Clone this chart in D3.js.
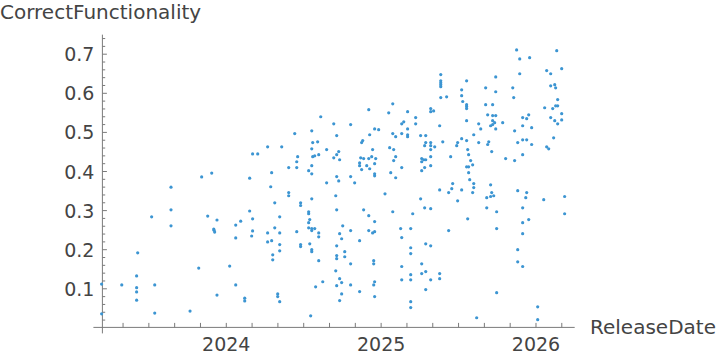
<!DOCTYPE html>
<html>
<head>
<meta charset="utf-8">
<script src="https://cdn.jsdelivr.net/npm/d3@7"></script>
<style>
  html, body { margin: 0; padding: 0; background: #fff; }
  svg { display: block; }
  text { font-family: "DejaVu Sans", sans-serif; }
</style>
</head>
<body>
<div id="chart"></div>
<script>
// ---- Data (ReleaseDate as decimal year, CorrectFunctionality) ----
const releaseDate = [
  2024.170,2024.203,2023.841,2023.906,2024.151,2023.643,2023.643,2023.518,2023.880,2023.940,
  2024.093,2024.151,2024.170,2023.643,2023.919,2023.921,2023.925,2024.061,2024.170,2024.164,
  2024.061,2023.428,2023.822,2024.022,2023.421,2023.195,2023.325,2023.538,2023.421,2024.061,
  2023.421,2023.940,2023.421,2024.119,2024.119,2023.195,2023.538,2023.766,
  2024.920,2024.610,2024.694,2024.803,2024.958,2024.984,2024.442,2024.552,2024.926,2024.713,
  2024.881,2024.874,2024.267,2024.358,2024.558,2024.590,2024.552,2024.648,2024.945,2024.726,
  2024.713,2024.597,2024.571,2024.558,2024.461,2024.694,2024.868,2024.887,2024.920,2024.939,
  2024.965,2024.732,2024.455,2024.861,2024.958,2024.552,2024.861,2024.907,2024.403,2024.455,
  2024.926,2024.874,2024.532,2024.293,2024.552,2024.958,2024.958,2024.713,2024.803,2024.726,
  2024.648,2024.829,2024.287,2024.403,2024.403,2024.707,2025.025,2024.552,2024.313,2024.480,
  2024.480,2024.713,2024.887,2024.532,2024.532,2024.920,2024.345,2024.539,2024.958,2024.532,
  2024.752,2024.313,2024.532,2024.552,2024.571,2024.552,2024.267,2024.345,2024.455,2024.597,
  2024.803,2024.920,2024.945,2024.958,2024.732,2024.597,2024.745,2024.267,2024.293,2024.861,
  2024.345,2024.480,2024.480,2024.539,2024.713,2024.552,2024.552,2024.345,2024.765,2024.300,
  2024.713,2024.713,2024.765,2024.300,2024.597,2024.952,2024.952,2024.803,2024.707,2024.732,
  2024.623,2024.745,2024.958,2024.952,2024.803,2024.713,2024.577,2024.861,2024.745,2024.332,
  2024.332,2024.958,2024.732,2024.345,2024.545,
  2025.385,2025.385,2025.385,2025.385,2025.385,2025.552,2025.520,2025.520,2025.385,2025.423,
  2025.527,2025.075,2025.552,2025.552,2025.552,2025.320,2025.320,2025.339,2025.049,2025.171,
  2025.223,2025.146,2025.133,2025.223,2025.552,2025.630,2025.378,2025.171,2025.075,2025.133,
  2025.171,2025.171,2025.094,2025.255,2025.288,2025.598,2025.520,2025.398,2025.288,2025.320,
  2025.494,2025.630,2025.552,2025.281,2025.320,2025.346,2025.488,2025.055,2025.081,2025.320,
  2025.559,2025.565,2025.094,2025.320,2025.449,2025.262,2025.275,2025.288,2025.262,2025.578,
  2025.081,2025.591,2025.320,2025.133,2025.281,2025.552,2025.565,2025.262,2025.062,2025.565,
  2025.094,2025.572,2025.462,2025.598,2025.598,2025.456,2025.378,2025.520,2025.436,2025.591,
  2025.494,2025.255,2025.281,2025.320,2025.075,2025.204,2025.559,2025.126,2025.191,2025.436,
  2025.133,2025.288,2025.320,2025.191,2025.191,2025.262,2025.133,2025.288,2025.262,2025.378,
  2025.191,2025.133,2025.191,2025.320,2025.378,2025.288,2025.191,2025.191,2025.617,
  2025.875,2026.134,2025.895,2025.959,2026.166,2026.069,2026.095,2025.895,2025.740,2026.095,
  2026.121,2026.127,2025.675,2025.850,2025.740,2025.856,2026.140,2025.675,2025.720,2026.127,
  2026.140,2026.056,2026.108,2026.166,2025.688,2025.720,2025.740,2025.953,2025.914,2025.940,
  2026.095,2026.166,2025.720,2025.733,2025.785,2026.121,2026.140,2025.707,2025.720,2025.914,
  2025.972,2025.643,2025.740,2025.862,2025.914,2025.940,2026.114,2025.695,2025.688,2025.882,
  2025.972,2026.069,2026.082,2025.714,2025.914,2025.804,2025.862,2025.707,2025.882,2025.940,
  2025.714,2025.707,2025.727,2025.682,2025.934,2026.185,2026.050,2025.682,2025.914,2025.746,
  2026.185,2025.953,2025.914,2025.746,2025.914,2025.882,2025.882,2025.914,2025.746,2026.011,
  2026.011
];
const correctFunctionality = [
  0.445,0.445,0.386,0.396,0.383,0.360,0.302,0.284,0.286,0.276,
  0.273,0.299,0.279,0.261,0.253,0.250,0.245,0.263,0.248,0.235,
  0.230,0.192,0.153,0.158,0.133,0.112,0.110,0.110,0.103,0.110,
  0.092,0.084,0.071,0.076,0.069,0.036,0.038,0.043,
  0.558,0.540,0.522,0.520,0.509,0.507,0.497,0.504,0.494,0.492,
  0.479,0.474,0.463,0.463,0.474,0.476,0.458,0.456,0.456,0.451,
  0.443,0.443,0.440,0.438,0.438,0.435,0.435,0.433,0.433,0.438,
  0.433,0.430,0.425,0.422,0.420,0.415,0.415,0.415,0.410,0.410,
  0.407,0.405,0.402,0.397,0.394,0.394,0.389,0.387,0.387,0.376,
  0.371,0.371,0.361,0.346,0.338,0.338,0.343,0.330,0.320,0.320,
  0.313,0.302,0.302,0.297,0.292,0.287,0.284,0.277,0.272,0.269,
  0.261,0.256,0.256,0.254,0.254,0.249,0.243,0.243,0.246,0.243,
  0.249,0.249,0.243,0.246,0.241,0.233,0.228,0.220,0.223,0.223,
  0.213,0.213,0.208,0.215,0.210,0.200,0.195,0.197,0.195,0.187,
  0.185,0.177,0.182,0.174,0.172,0.172,0.164,0.164,0.146,0.126,
  0.118,0.116,0.118,0.110,0.110,0.108,0.105,0.093,0.087,0.087,
  0.080,0.080,0.070,0.067,0.031,
  0.648,0.632,0.627,0.622,0.617,0.632,0.609,0.594,0.589,0.591,
  0.579,0.573,0.571,0.566,0.561,0.561,0.553,0.555,0.550,0.553,
  0.538,0.527,0.522,0.522,0.530,0.522,0.517,0.509,0.497,0.497,
  0.494,0.489,0.489,0.492,0.492,0.494,0.484,0.476,0.474,0.474,
  0.474,0.474,0.479,0.466,0.466,0.463,0.466,0.461,0.456,0.456,
  0.456,0.443,0.438,0.438,0.438,0.433,0.430,0.430,0.425,0.428,
  0.428,0.417,0.415,0.410,0.410,0.412,0.412,0.402,0.397,0.397,
  0.384,0.379,0.369,0.369,0.359,0.356,0.353,0.353,0.346,0.346,
  0.325,0.330,0.307,0.305,0.297,0.292,0.279,0.254,0.254,0.249,
  0.231,0.215,0.210,0.205,0.190,0.164,0.157,0.144,0.139,0.139,
  0.136,0.123,0.123,0.123,0.126,0.098,0.067,0.052,0.026,
  0.711,0.709,0.688,0.691,0.663,0.658,0.650,0.650,0.642,0.619,
  0.622,0.614,0.614,0.614,0.604,0.589,0.584,0.571,0.571,0.568,
  0.568,0.563,0.561,0.548,0.545,0.543,0.543,0.545,0.538,0.535,
  0.538,0.532,0.530,0.525,0.525,0.530,0.522,0.517,0.520,0.517,
  0.512,0.509,0.509,0.504,0.481,0.481,0.486,0.476,0.469,0.474,
  0.469,0.463,0.458,0.451,0.443,0.433,0.428,0.366,0.351,0.346,
  0.346,0.336,0.338,0.333,0.333,0.336,0.328,0.307,0.307,0.297,
  0.292,0.277,0.269,0.254,0.241,0.200,0.169,0.157,0.090,0.054,
  0.021
];
const yearTicks = [2024, 2025, 2026];
const yTickLabels = [0.1, 0.2, 0.3, 0.4, 0.5, 0.6, 0.7];
const xLabel = "ReleaseDate";
const yLabel = "CorrectFunctionality";

// ---- Layout ----
const W = 720, H = 358;
const x = d3.scaleLinear().domain([2023.2, 2026.25]).range([102.4, 574.7]);
const y = d3.scaleLinear().domain([0, 0.75]).range([327.9, 34.65]);
const axisColor = "#7a7a7a";
const textColor = "#444444";
const dotColor = "#3c95d2";
const tickFont = "19px";
const titleFont = "20px";

const svg = d3.select("#chart").append("svg")
  .attr("width", W).attr("height", H);

const x0 = x(2023.2), yAx = y(0) - 0.5;

// axis lines
svg.append("line")
  .attr("x1", x0 - 9).attr("x2", x(2026.25))
  .attr("y1", yAx).attr("y2", yAx)
  .attr("stroke", axisColor).attr("stroke-width", 1);
svg.append("line")
  .attr("x1", x0).attr("x2", x0)
  .attr("y1", y(0.75)).attr("y2", yAx + 6)
  .attr("stroke", axisColor).attr("stroke-width", 1);

// x ticks every 2 months
const xMinor = d3.range(2, 20).map(i => 2023 + i / 6).filter(v => v > 2023.25 && v < 2026.22);
svg.append("g").selectAll("line").data(xMinor).join("line")
  .attr("x1", d => x(d)).attr("x2", d => x(d))
  .attr("y1", yAx).attr("y2", yAx - 4.5)
  .attr("stroke", axisColor).attr("stroke-width", 1);

// x tick labels
svg.append("g").selectAll("text").data(yearTicks).join("text")
  .attr("x", d => x(d)).attr("y", yAx + 24)
  .attr("text-anchor", "middle")
  .attr("font-size", tickFont).attr("fill", textColor)
  .text(d => d3.format("d")(d));

// y ticks
const yMinor = d3.range(1, 38).map(i => i * 0.02).filter(v => v <= 0.745);
svg.append("g").selectAll("line").data(yMinor).join("line")
  .attr("x1", x0).attr("x2", d => x0 + (Math.abs(d * 10 - Math.round(d * 10)) < 1e-6 ? 4.5 : 2.8))
  .attr("y1", d => y(d)).attr("y2", d => y(d))
  .attr("stroke", axisColor).attr("stroke-width", 1);

svg.append("g").selectAll("text").data(yTickLabels).join("text")
  .attr("x", x0 - 8).attr("y", d => y(d) + 7)
  .attr("text-anchor", "end")
  .attr("font-size", tickFont).attr("fill", textColor)
  .text(d => d3.format(".1f")(d));

// axis titles
svg.append("text")
  .attr("x", 0).attr("y", 18.5)
  .attr("font-size", titleFont).attr("fill", textColor)
  .text(yLabel);
svg.append("text")
  .attr("x", 590).attr("y", 333.5)
  .attr("font-size", titleFont).attr("fill", textColor)
  .text(xLabel);

// points
svg.append("g").selectAll("circle")
  .data(releaseDate.map((d, i) => [d, correctFunctionality[i]]))
  .join("circle")
  .attr("cx", d => x(d[0])).attr("cy", d => y(d[1]))
  .attr("r", 1.6)
  .attr("fill", dotColor);
</script>
</body>
</html>
